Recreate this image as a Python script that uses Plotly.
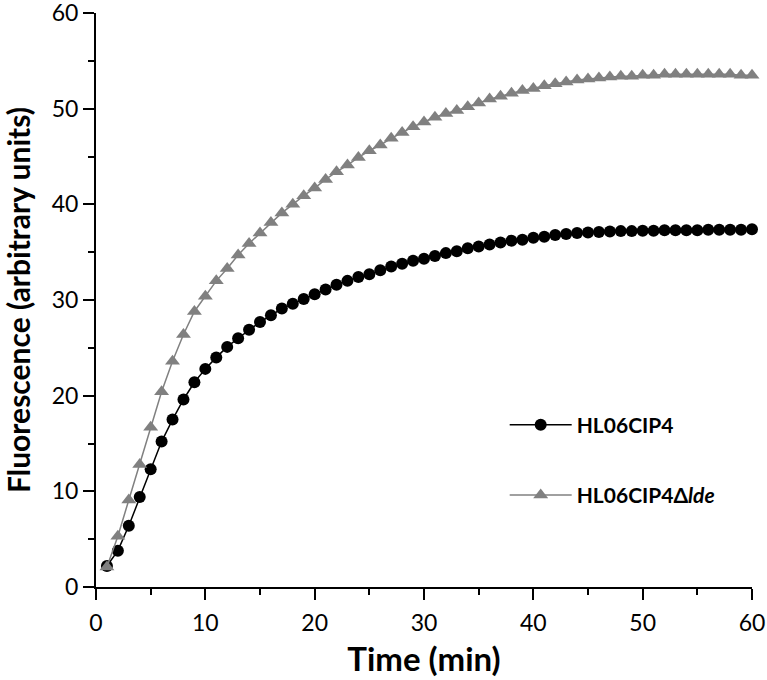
import plotly.graph_objects as go

# Time points (min)
time_min = list(range(1, 61))

# HL06CIP4 (black circles)
hl06cip4 = [
    2.2, 3.8, 6.4, 9.4, 12.3, 15.2, 17.5, 19.6, 21.4, 22.8,
    24.0, 25.1, 26.0, 26.9, 27.7, 28.4, 29.1, 29.6, 30.1, 30.6,
    31.1, 31.6, 32.0, 32.4, 32.7, 33.1, 33.5, 33.8, 34.1, 34.3,
    34.6, 34.9, 35.1, 35.4, 35.6, 35.8, 36.0, 36.2, 36.3, 36.5,
    36.6, 36.8, 36.9, 37.0, 37.05, 37.1, 37.15, 37.2, 37.2, 37.25,
    37.25, 37.3, 37.3, 37.3, 37.3, 37.35, 37.35, 37.35, 37.35, 37.4,
]

# HL06CIP4 delta lde (grey triangles)
hl06cip4_dlde = [
    2.1, 5.3, 9.1, 12.8, 16.7, 20.4, 23.6, 26.4, 28.8, 30.4,
    32.0, 33.3, 34.7, 35.9, 37.0, 38.1, 39.1, 40.0, 40.9, 41.7,
    42.6, 43.4, 44.1, 44.9, 45.6, 46.2, 46.9, 47.5, 48.1, 48.6,
    49.1, 49.5, 49.8, 50.2, 50.6, 51.0, 51.3, 51.6, 51.9, 52.1,
    52.4, 52.6, 52.8, 53.0, 53.1, 53.2, 53.3, 53.4, 53.4, 53.5,
    53.5, 53.6, 53.6, 53.6, 53.6, 53.6, 53.6, 53.6, 53.5, 53.5,
]

FONT = "Lato"
GREY = "#808080"

fig = go.Figure()
fig.add_scatter(
    x=time_min, y=hl06cip4, mode="lines+markers", name="<b>HL06CIP4</b>",
    line={"color": "black", "width": 1.5},
    marker={"symbol": "circle", "size": 12, "color": "black"},
    legendgroup="a", cliponaxis=False,
)
fig.add_scatter(
    x=time_min, y=hl06cip4_dlde, mode="lines+markers", name="<b>HL06CIP4Δ<i>lde</i></b>",
    line={"color": GREY, "width": 1.5},
    marker={"symbol": "triangle-up", "size": 13, "color": GREY},
    legendgroup="b", cliponaxis=False,
)

axis_common = dict(
    showline=True, linecolor="black", linewidth=2,
    ticks="outside", ticklen=11, tickwidth=2, tickcolor="black",
    showgrid=False, zeroline=False, mirror=False, automargin=False,
    ticklabeloverflow="allow",
    tickfont={"family": FONT, "size": 23, "color": "black"},
    minor={"ticks": "outside", "ticklen": 6, "tickwidth": 2, "tickcolor": "black", "dtick": 5, "showgrid": False},
)

fig.update_layout(
    width=767, height=680,
    margin={"l": 96, "r": 15, "t": 13, "b": 93},
    plot_bgcolor="white", paper_bgcolor="white",
    font={"family": FONT, "color": "black"},
    xaxis=dict(
        axis_common, range=[0, 60], dtick=10, ticklabelstandoff=3,
        title={"text": "<b>Time (min)</b>", "font": {"family": FONT, "size": 33}, "standoff": 13},
    ),
    yaxis=dict(
        axis_common, range=[0, 60], dtick=10,
        title={"text": "<b>Fluorescence (arbitrary units)</b>", "font": {"family": FONT, "size": 30}, "standoff": 15},
    ),
    legend={
        "x": 0.623, "y": 0.221, "xanchor": "left", "yanchor": "middle",
        "font": {"family": FONT, "size": 21, "color": "black"},
        "tracegroupgap": 40, "itemwidth": 62, "bgcolor": "rgba(0,0,0,0)",
    },
)

# the page body has a default 8px margin; drop it so the figure sits at the corner
fig.write_html(
    "out.html",
    config={"displayModeBar": False},
    post_script="document.body.style.margin = '0';",
)
